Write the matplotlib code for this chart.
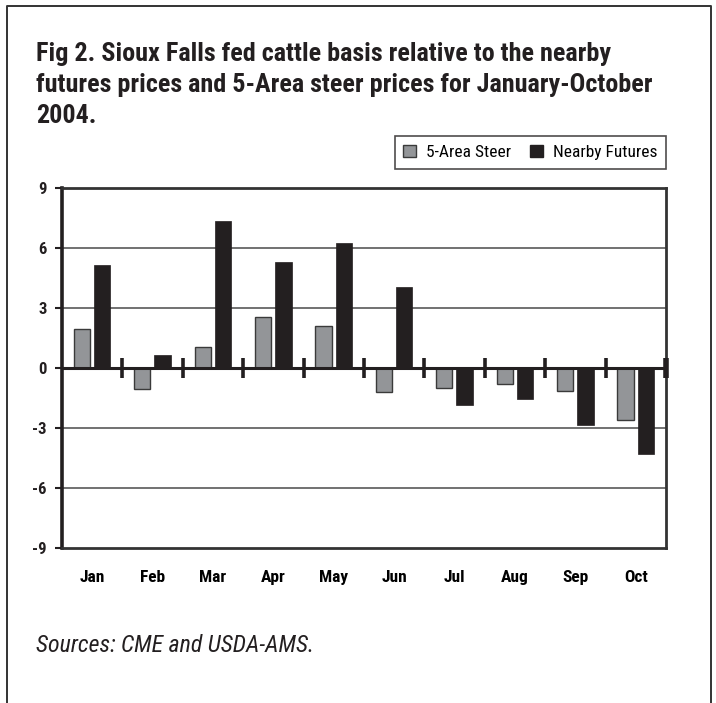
import numpy as np
import matplotlib
matplotlib.use("Agg")
from matplotlib import pyplot as plt
from matplotlib import font_manager
from matplotlib.patches import Patch
from matplotlib.lines import Line2D

# basis values ($/cwt), Jan-Oct 2004
months = ["Jan", "Feb", "Mar", "Apr", "May", "Jun", "Jul", "Aug", "Sep", "Oct"]
steer_basis = [1.93, -1.07, 1.07, 2.57, 2.1, -1.18, -1.02, -0.82, -1.13, -2.6]
futures_basis = [5.15, 0.65, 7.35, 5.3, 6.25, 4.05, -1.85, -1.55, -2.83, -4.3]
yticks = [-9, -6, -3, 0, 3, 6, 9]

title_lines = [
    "Fig 2. Sioux Falls fed cattle basis relative to the nearby",
    "futures prices and 5-Area steer prices for January-October",
    "2004.",
]
source_note = "Sources: CME and USDA-AMS."

STEER = "#939598"
FUTURES = "#231f20"

# pick a narrow sans if one is around
installed = {f.name for f in font_manager.fontManager.ttflist}
narrow = next((n for n in ["Roboto Condensed", "Liberation Sans Narrow", "DejaVu Sans Condensed"]
               if n in installed), "Liberation Sans")
plt.rcParams["font.family"] = [narrow, "DejaVu Sans"]

W, H = 716, 703
fig = plt.figure(figsize=(W / 100, H / 100), dpi=100)


def fx(px):
    return px / W


def fy(py):
    return 1 - py / H


ax = fig.add_axes([fx(62), fy(548), fx(666) - fx(62), fy(188) - fy(548)])

x = np.arange(len(months))
bw = 0.27
ax.bar(x - 0.17, steer_basis, bw, color=STEER, edgecolor="#3a3a3a", linewidth=1.0, zorder=3)
ax.bar(x + 0.165, futures_basis, bw, color=FUTURES, edgecolor=FUTURES, linewidth=0.5, zorder=3)

ax.set_xlim(-0.5, len(months) - 0.5)
ax.set_ylim(-9, 9)
ax.set_yticks(yticks)
ax.set_yticklabels([str(v) for v in yticks], fontsize=12, fontweight="bold")
ax.set_xticks(x)
ax.set_xticklabels(months, fontsize=12.5, fontweight="bold")
ax.tick_params(axis="x", length=0, pad=16)
ax.tick_params(axis="y", length=5, width=1.5, direction="out", pad=6, colors="#231f20")

for v in [-6, -3, 3, 6]:
    ax.axhline(v, color="#4a4a4a", lw=1.1, zorder=1)

# category axis sits on zero, with crossing ticks between months
ax.axhline(0, color=FUTURES, lw=2.2, zorder=4)
bounds = x[1:] - 0.5
ax.plot(bounds, np.zeros_like(bounds, dtype=float), ls="none", marker="|",
        ms=14, mew=2.6, color=FUTURES, zorder=5, clip_on=False)
ax.plot([len(months) - 0.5], [0], ls="none", marker="|", ms=14, mew=4,
        color=FUTURES, zorder=5, clip_on=False)

for side in ["top", "right", "bottom"]:
    ax.spines[side].set_color("#333333")
    ax.spines[side].set_linewidth(2)
ax.spines["left"].set_color(FUTURES)
ax.spines["left"].set_linewidth(2.6)

handles = [
    Patch(facecolor=STEER, edgecolor="#3a3a3a", linewidth=1.0, label="5-Area Steer"),
    Patch(facecolor=FUTURES, edgecolor=FUTURES, label="Nearby Futures"),
]
leg = fig.legend(handles=handles, loc="upper right", bbox_to_anchor=(fx(666), fy(136)),
                 ncol=2, frameon=True, fancybox=False, edgecolor=FUTURES,
                 fontsize=12.5, handlelength=0.75, handleheight=0.75, handletextpad=0.55,
                 columnspacing=1.1, borderpad=0.5, borderaxespad=0)
leg.get_frame().set_linewidth(1.2)

for i, line in enumerate(title_lines):
    fig.text(fx(36), fy(61 + 31 * i), line, fontsize=18.8, fontweight="bold",
             color=FUTURES, va="baseline", ha="left")

fig.text(fx(36), fy(652), source_note, fontsize=17.2, style="italic",
         color=FUTURES, va="baseline", ha="left")

# outer box, open at the bottom
fig.add_artist(Line2D([fx(7), fx(7), fx(711), fx(711)], [0, fy(6), fy(6), 0],
                      color="#333333", lw=1.4))

fig.savefig("out.png", dpi=100)
